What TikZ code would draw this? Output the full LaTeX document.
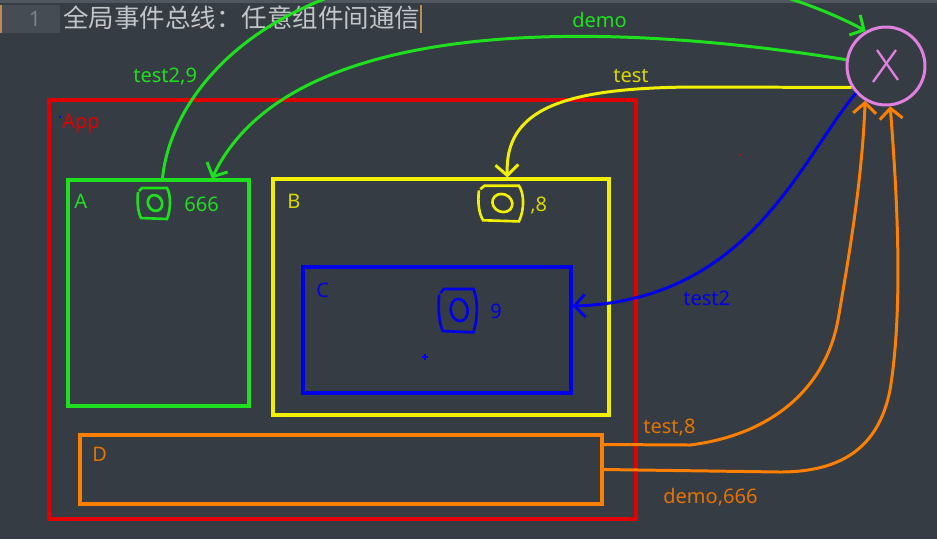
\documentclass[tikz,border=0pt]{standalone}
\usepackage{fontspec}
\setmainfont{Noto Sans}
\newfontfamily\cjkfont{Noto Sans CJK SC}
\usetikzlibrary{arrows.meta}

\definecolor{sfondo}{HTML}{363C43}
\definecolor{barra}{HTML}{50575E}
\definecolor{gutter}{HTML}{454C54}
\definecolor{numero}{HTML}{7A828A}
\definecolor{titolo}{HTML}{C2C5C8}
\definecolor{cursore}{HTML}{C08A50}
\definecolor{rosso}{HTML}{E00000}
\definecolor{verde}{HTML}{1EE01E}
\definecolor{giallo}{HTML}{F0F000}
\definecolor{blu}{HTML}{0000E8}
\definecolor{arancio}{HTML}{FF8000}
\definecolor{viola}{HTML}{E080E0}

\begin{document}
\begin{tikzpicture}[x=0.02cm, y=-0.02cm,
    riquadro/.style={draw=#1, line width=1.8pt, inner sep=0pt},
    freccia/.style={line width=1.7pt, -{Straight Barb[length=6pt,width=13pt]}},
    scritta/.style={text=#1, font=\fontsize{11.4}{13}\selectfont, inner sep=0pt, anchor=base west},
    scribble/.pic={
        \draw (-16,-11) .. controls (-17,0) and (-16,9) .. (-13,15) -- (13,16)
              .. controls (17,6) and (17,-8) .. (13,-15) -- (-12,-15) -- (-15,-12);
        \draw[rotate around={25:(1,0)}] (1,0) ellipse [x radius=4pt, y radius=4.6pt];
    }]
        % Sfondo dell'editor
        \fill[sfondo] (0,0) rectangle (937,539);
        \useasboundingbox (0,0) rectangle (937,539);
        \clip (0,0) rectangle (937,539);

        % Barra in alto, numero di riga e titolo
        \fill[barra] (0,0) rectangle (937,3);
        \fill[gutter] (0,5) rectangle (60,33);
        \fill[cursore] (0,5) rectangle (2,33);
        \node[text=numero, font=\fontsize{12}{14}\selectfont, inner sep=0pt] (riga) at (35,19) {1};
        \node[text=titolo, font=\cjkfont\fontsize{14.5}{16}\selectfont, inner sep=0pt, anchor=west] (titolo) at (63,18) {全局事件总线：任意组件间通信};
        \draw[cursore, line width=0.8pt] (421,5) -- (421,33);

        % Componenti
        \node[riquadro=rosso, minimum width=11.74cm, minimum height=8.38cm] (app) at (342.5,309.5) {};
        \node[riquadro=verde, minimum width=3.62cm, minimum height=4.52cm] (A) at (158.5,293) {};
        \node[riquadro=giallo, minimum width=6.72cm, minimum height=4.72cm] (B) at (441,297) {};
        \node[riquadro=blu, minimum width=5.36cm, minimum height=2.52cm] (C) at (437,330) {};
        \node[riquadro=arancio, minimum width=10.44cm, minimum height=1.38cm] (D) at (341,469.5) {};

        % Bus degli eventi
        \node[draw=viola, circle, line width=1.7pt, minimum size=1.56cm, inner sep=0pt] (bus) at (886,66) {};
        \draw[viola, line width=1.3pt] ([shift={(-9,-16)}]bus.center) -- ([shift={(12,14)}]bus.center);
        \draw[viola, line width=1.3pt] ([shift={(10,-16)}]bus.center) -- ([shift={(-13,16)}]bus.center);

        % Nomi dei componenti
        \node[scritta=rosso] (lapp) at (62,128) {App};
        \node[scritta=verde] (la) at (74,208) {A};
        \node[scritta=giallo!90!black] (lb) at (287,208) {B};
        \node[scritta=blu] (lc) at (316,297) {C};
        \node[scritta=arancio!90!black] (ld) at (92,461) {D};

        % Scarabocchi (ascoltatori) e dati
        \pic[verde, line width=1.5pt] at (154,203) {scribble};
        \pic[giallo, line width=1.5pt, xscale=1.38, yscale=1.15] at (501,203) {scribble};
        \pic[blu, line width=1.5pt, xscale=1.18, yscale=1.4] at (458,310) {scribble};
        \node[scritta=verde] (d666) at (184,211) {666};
        \node[scritta=giallo!90!black] (d8) at (530,211) {,8};
        \node[scritta=blu] (d9) at (490,318) {9};

        % Eventi verdi
        \draw[freccia, verde] (A.88) .. controls (170,100) and (250,-10) .. (450,-30)
              .. controls (650,-50) and (790,-10) .. (bus.120);
        \node[scritta=verde] (ltest29) at (133,82) {test2,9};
        \draw[freccia, verde] (bus.171) .. controls (600,20) and (290,15) .. (A.65);
        \node[scritta=verde] (ldemo) at (572,27) {demo};

        % Evento giallo
        \draw[freccia, giallo] (bus.212) -- (700,87) .. controls (560,87) and (505,110) .. (B.61);
        \node[scritta=giallo!90!black] (ltest) at (613,82) {test};

        % Evento blu
        \draw[freccia, blu] (bus.222) .. controls (800,160) and (750,300) .. (C.10);
        \node[scritta=blu] (ltest2) at (683,305) {test2};

        % Eventi arancioni da D
        \draw[freccia, arancio] ([yshift=0.5cm]D.east) -- (690,445) .. controls (770,435) and (825,390) .. (838,320)
              .. controls (850,250) and (862,180) .. (bus.239);
        \node[scritta=arancio!90!black] (ltest8) at (643,433) {test,8};
        \draw[freccia, arancio] (D.east) -- (780,472) .. controls (850,472) and (880,440) .. (890,390)
              .. controls (905,300) and (895,170) .. (bus.276);
        \node[scritta=arancio!90!black] (ldemo666) at (663,503) {demo,666};

        % Puntini
        \fill[rosso] (740,155) circle (0.7pt);
        \fill[blu] (60,117) circle (0.6pt);
        \draw[blu, line width=0.6pt] (422,357) -- (428,357) (425,354) -- (425,360);
\end{tikzpicture}
\end{document}
